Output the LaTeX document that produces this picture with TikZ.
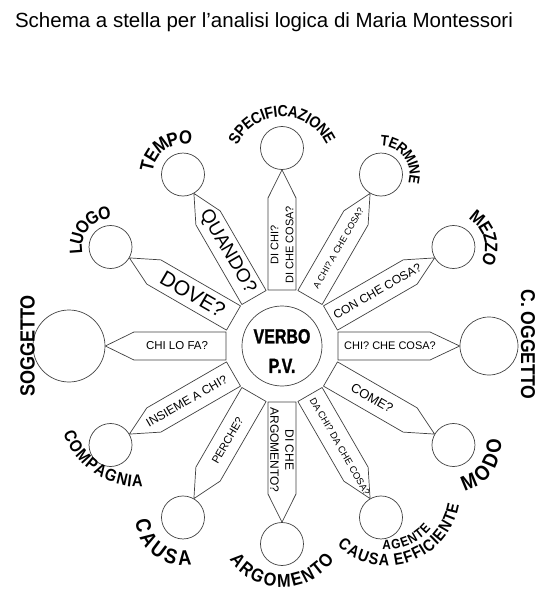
\documentclass[tikz,border=0pt]{standalone}
\usepackage{fontspec}
\setmainfont{Liberation Sans}
\newfontfamily\labfont[FakeStretch=0.88]{Liberation Sans Bold}
\newfontfamily\verbofont[FakeStretch=0.78,FakeBold=1.2]{Liberation Sans Bold}
\usetikzlibrary{calc,decorations.text}

\tikzset{
  ring/.style={circle,draw=black!75,line width=0.7pt,inner sep=0pt},
  tag/.style={draw=black!75,line width=0.7pt,line join=round},
  ask/.style={font=\fontsize{#1}{15}\selectfont,inner sep=0pt,align=center},
  lab/.style={font=\labfont\fontsize{#1}{#1}\selectfont,inner sep=0pt},
}

\begin{document}
\begin{tikzpicture}[x=1pt,y=1pt]
\useasboundingbox (-282,-252) rectangle (274,346);
\node[anchor=base,font=\fontsize{20.5}{24}\selectfont] (title) at (-18,318) {Schema a stella per l’analisi logica di Maria Montessori};

\node[ring,minimum size=80] (verbo) at (0,0) {};
\node[font=\verbofont\fontsize{20.5}{29.5}\selectfont,align=center,inner sep=0pt] (verbotext) at (0,-5) {VERBO\\P.V.};

\foreach \ang/\nm in {30/mezzo,60/termine,90/spec,120/tempo,150/luogo,210/compagnia,240/causa,270/argomento,300/agente,330/modo}
  \node[ring,minimum size=43] (\nm) at (\ang:198) {};
\node[ring,minimum size=58] (oggetto) at (0:207) {};
\node[ring,minimum size=72] (soggetto) at (180:213) {};

\foreach \ang/\nm [evaluate=\ang as \opp using {int(mod(\ang+180,360))}] in {0/oggetto,30/mezzo,60/termine,90/spec,120/tempo,150/luogo,180/soggetto,210/compagnia,240/causa,270/argomento,300/agente,330/modo}
  \draw[tag,rotate=\ang] (56,-14) -- (148,-14) -- (\nm.\opp) -- (148,14) -- (56,14) -- cycle;

\foreach \ang/\dist/\rot/\sz/\txt in {0/108/0/11/{CHI? CHE COSA?},30/110/30/12/{CON CHE COSA?},60/113/60/9/{A CHI? A CHE COSA?},90/101/90/11/{DI CHI?\\DI CHE COSA?},120/109/-60/19/{QUANDO?},150/103/-30/21/{DOVE?},180/105/0/11.5/{CHI LO FA?},210/110/30/12/{INSIEME A CHI?},240/109/60/11/{PERCHE?},270/104/-90/12/{DI CHE\\ARGOMENTO?},300/116/-60/9.5/{DA CHI? DA CHE COSA?},330/104/-30/13/{COME?}}
  \node[ask=\sz,rotate=\rot] (q\ang) at (\ang:\dist) {\txt};

\node[lab=20.5,rotate=90] (soggettotext) at (-254.5,0) {SOGGETTO};
\node[lab=20,rotate=-90] (oggettotext) at (246,1.5) {C. OGGETTO};

\foreach \nm/\ox/\oy/\rr/\st/\dd/\rf/\sz/\txt [evaluate=\sz as \rs using \rf*\sz] in {spec/0/-18/52.4/260/-340/-0.2/16/SPECIFICAZIONE,termine/0/0/31.6/207/-340/-0.2/15/TERMINE,mezzo/0/0/35.1/186/-340/-0.2/18/MEZZO,tempo/0/0/34/295/-340/-0.2/19/TEMPO,luogo/0/0/32.1/311/-340/-0.2/18/LUOGO,modo/0/0/37.1/-205/340/-0.5/21/MODO,agente/6/25/64.7/118.6/340/-0.5/16.5/{CAUSA EFFICIENTE},agente/6/25/50.1/123/340/-0.5/13.5/AGENTE,argomento/0/19/53.4/100/340/-0.5/18.5/ARGOMENTO,causa/0/0/37.1/62/340/-0.5/21/CAUSA,compagnia/29/39/72.6/66/340/-0.5/17/COMPAGNIA}
  \path[decorate,decoration={text along path,text align=center,raise=\rs pt,text/.expanded={|\noexpand\labfont\noexpand\fontsize{\sz}{\sz}\noexpand\selectfont|\txt}}]
    ([shift={(\ox,\oy)}]\nm.center) ++(\st:\rr) arc[start angle=\st,delta angle=\dd,radius=\rr];
\end{tikzpicture}
\end{document}
